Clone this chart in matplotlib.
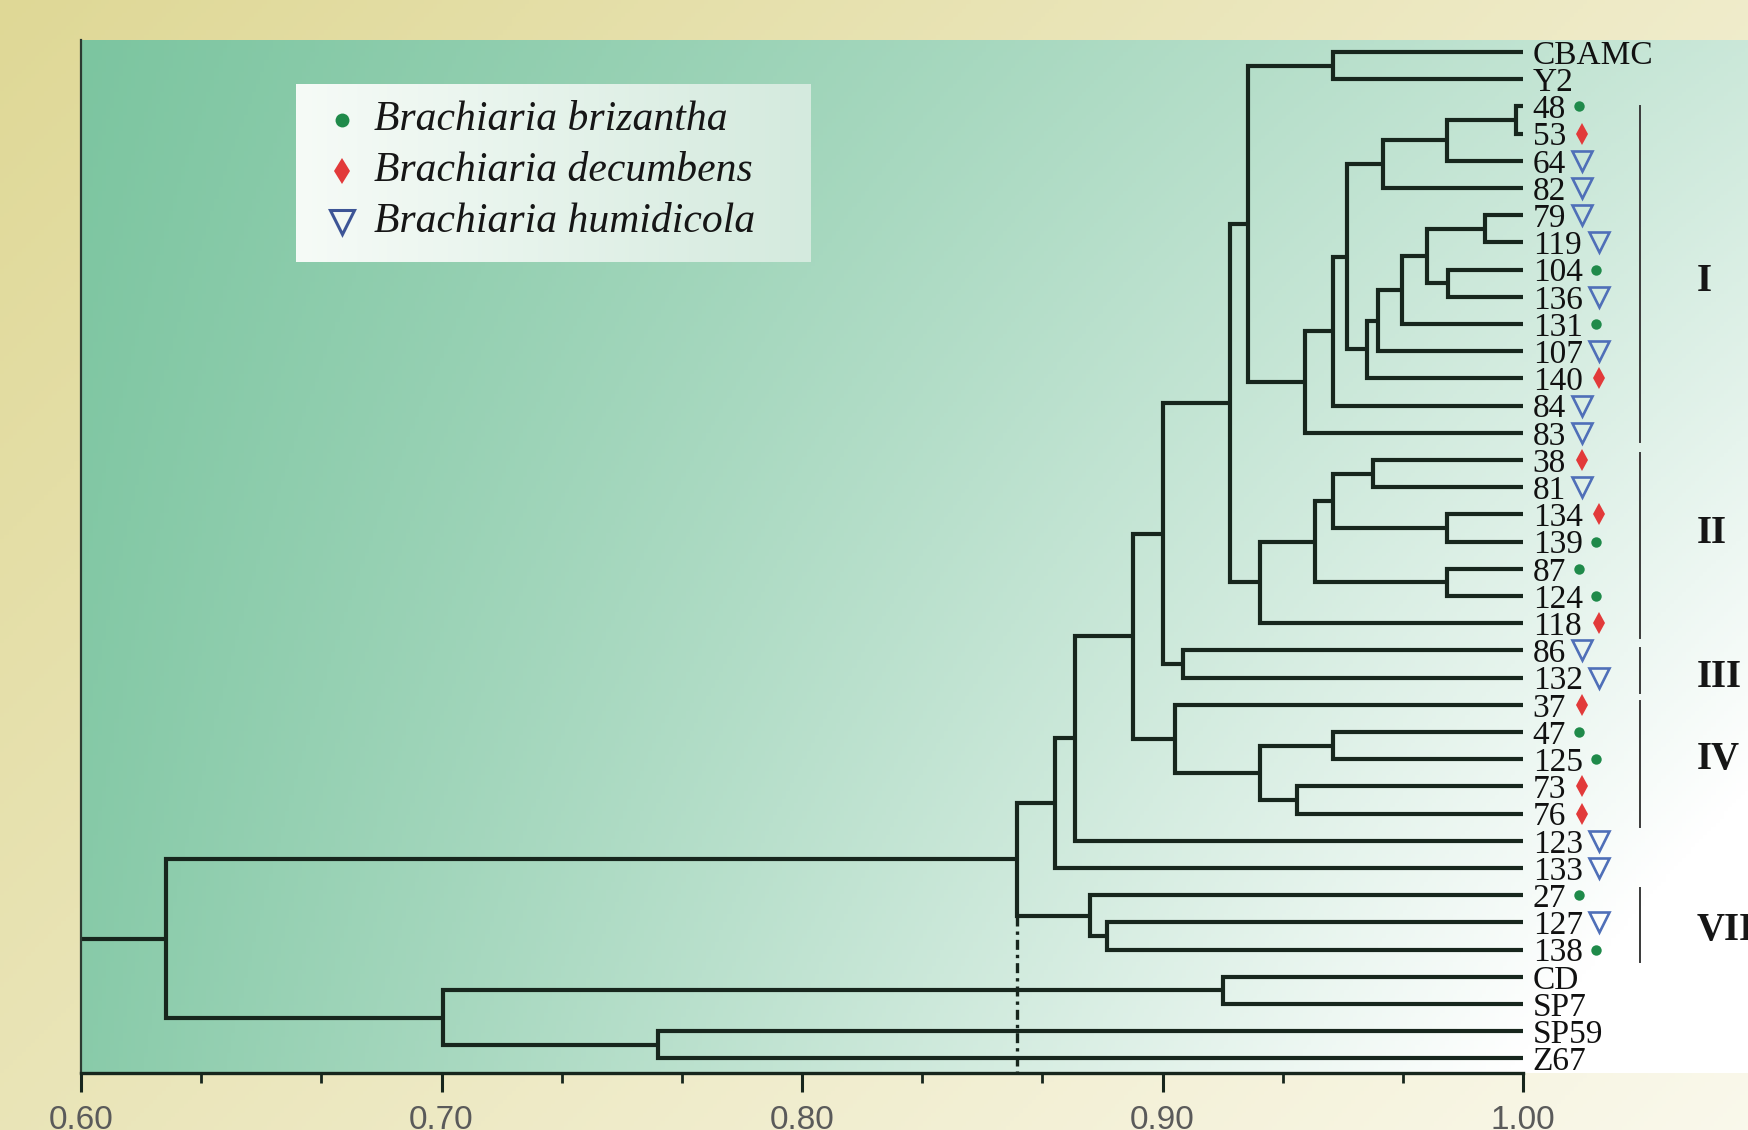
import numpy as np
import matplotlib.pyplot as plt

# leaf order, top to bottom
leaves = ["CBAMC", "Y2", "48", "53", "64", "82", "79", "119", "104", "136",
          "131", "107", "140", "84", "83", "38", "81", "134", "139", "87",
          "124", "118", "86", "132", "37", "47", "125", "73", "76", "123",
          "133", "27", "127", "138", "CD", "SP7", "SP59", "Z67"]

# b = B. brizantha, d = B. decumbens, h = B. humidicola
species = {"48": "b", "53": "d", "64": "h", "82": "h", "79": "h", "119": "h",
           "104": "b", "136": "h", "131": "b", "107": "h", "140": "d", "84": "h",
           "83": "h", "38": "d", "81": "h", "134": "d", "139": "b", "87": "b",
           "124": "b", "118": "d", "86": "h", "132": "h", "37": "d", "47": "b",
           "125": "b", "73": "d", "76": "d", "123": "h", "133": "h", "27": "b",
           "127": "h", "138": "b"}

# (node, child a, child b, similarity coefficient)
merges = [
    ("n1", "48", "53", 0.998),
    ("n2", "n1", "64", 0.9788),
    ("n3", "n2", "82", 0.9613),
    ("n4", "79", "119", 0.9894),
    ("n5", "104", "136", 0.9793),
    ("n6", "n4", "n5", 0.9733),
    ("n7", "n6", "131", 0.9663),
    ("n8", "n7", "107", 0.9599),
    ("n9", "n8", "140", 0.9566),
    ("n10", "n3", "n9", 0.9511),
    ("n11", "n10", "84", 0.9474),
    ("n12", "n11", "83", 0.9395),
    ("n13", "CBAMC", "Y2", 0.9474),
    ("n14", "n13", "n12", 0.9238),
    ("n15", "38", "81", 0.9585),
    ("n16", "134", "139", 0.9788),
    ("n17", "n15", "n16", 0.9474),
    ("n18", "87", "124", 0.9788),
    ("n19", "n17", "n18", 0.9423),
    ("n20", "n19", "118", 0.9271),
    ("n21", "n14", "n20", 0.9187),
    ("n22", "86", "132", 0.9058),
    ("n23", "n21", "n22", 0.9002),
    ("n24", "47", "125", 0.9474),
    ("n25", "73", "76", 0.9372),
    ("n26", "n24", "n25", 0.9271),
    ("n27", "37", "n26", 0.9035),
    ("n28", "n23", "n27", 0.8919),
    ("n29", "n28", "123", 0.8757),
    ("n30", "n29", "133", 0.8702),
    ("n31", "127", "138", 0.8845),
    ("n32", "27", "n31", 0.8799),
    ("n33", "n30", "n32", 0.8596),
    ("n34", "CD", "SP7", 0.9169),
    ("n35", "SP59", "Z67", 0.7600),
    ("n36", "n34", "n35", 0.7004),
    ("n37", "n33", "n36", 0.6235),
]

groups = ["I", "II", "III", "IV", "VII"]
group_spans = [(2.0, 14.35), (14.75, 21.55), (21.9, 23.55), (23.85, 28.5), (30.75, 33.45)]
group_label_y = [8.45, 17.7, 23.0, 26.0, 32.3]

major_ticks = [0.60, 0.70, 0.80, 0.90, 1.00]
tick_labels = ["0.60", "0.70", "0.80", "0.90", "1.00"]
minor_ticks = [0.6333, 0.6667, 0.7333, 0.7667, 0.8333, 0.8667, 0.9333, 0.9667]

legend_names = {"b": "Brachiaria brizantha", "d": "Brachiaria decumbens",
                "h": "Brachiaria humidicola"}

# marker styles
mstyle = {
    "b": dict(marker="o", ms=7.5, mfc="#1f8a4a", mec="#1f8a4a", mew=0),
    "d": dict(marker="d", ms=11, mfc="#e23a3a", mec="#e23a3a", mew=0),
    "h": dict(marker="v", ms=15, mfc="none", mec="#4f6fb8", mew=1.9),
}
leg_style = {
    "b": dict(marker="o", ms=10, mfc="#1f8a4a", mec="#1f8a4a", mew=0),
    "d": dict(marker="d", ms=13, mfc="#e23a3a", mec="#e23a3a", mew=0),
    "h": dict(marker="v", ms=17, mfc="none", mec="#3d5596", mew=2.2),
}
marker_gap = {"b": 0.0035, "d": 0.0045, "h": 0.0045}

lc = "#17261d"
serif = "Liberation Serif"
W, H = 1749, 1130

fig = plt.figure(figsize=(W / 100, H / 100), dpi=100)

# page background
bg = fig.add_axes([0, 0, 1, 1], zorder=-5)
gx, gy = np.meshgrid(np.linspace(0, 1, 400), np.linspace(0, 1, 260))
t = np.clip(0.55 * gx + 0.35 * gy, 0, 1)[..., None]
yellow = np.array([223, 216, 150]) / 255
cream = np.array([253, 252, 245]) / 255
bg.imshow(yellow * (1 - t) + cream * t, extent=[0, 1, 0, 1], origin="upper", aspect="auto")
bg.axis("off")

rect = [81 / W, 1 - 1073 / H, 1 - 81 / W, (1073 - 40) / H]

# green panel
pan = fig.add_axes(rect, zorder=-1)
px, py = np.meshgrid(np.linspace(0, 1, 400), np.linspace(0, 1, 260))
t = np.clip(0.6 * px + 0.45 * px * py + 0.1 * py, 0, 1)[..., None]
green = np.array([124, 197, 160]) / 255
white = np.array([255, 255, 255]) / 255
pan.imshow(green * (1 - t) + white * t, extent=[0, 1, 0, 1], origin="upper", aspect="auto")
pan.axis("off")

ax = fig.add_axes(rect)
ax.set_facecolor("none")

# dendrogram
pos = {name: (1.0, i) for i, name in enumerate(leaves)}
for node, a, b, h in merges:
    xa, ya = pos[a]
    xb, yb = pos[b]
    ax.plot([xa, h, h, xb], [ya, ya, yb, yb], color=lc, lw=3.0,
            solid_joinstyle="miter", solid_capstyle="butt")
    pos[node] = (h, (ya + yb) / 2)

root_h, root_y = pos["n37"]
ax.plot([0.60, root_h], [root_y, root_y], color=lc, lw=3.0, solid_capstyle="butt")

ymax = (1073 - 52) / 27.2
ymin = (40 - 52) / 27.2

# dash-dot cut line
cut_h = pos["n33"][0]
ax.plot([cut_h, cut_h], [pos["n32"][1], ymax], color=lc, lw=2.4,
        linestyle=(0, (3, 1.5, 1, 1.5)))

# leaf labels and species markers
label_x = 1.0027
digit_w = 0.00465
for i, name in enumerate(leaves):
    ax.text(label_x, i, name, fontsize=24, family=serif, color="#111111",
            ha="left", va="center_baseline")
    if name in species:
        sp = species[name]
        mx = label_x + len(name) * digit_w + marker_gap[sp]
        ax.plot([mx], [i], linestyle="none", clip_on=False, **mstyle[sp])

# group brackets
for g, (y0, y1), gyv in zip(groups, group_spans, group_label_y):
    ax.plot([1.0324, 1.0324], [y0, y1], color="#3a3a3a", lw=1.4)
    ax.text(1.0482, gyv, g, fontsize=28, family=serif, fontweight="bold",
            color="#161616", ha="left", va="center")

ax.set_xlim(0.60, 0.60 + (W - 81) / 3605)
ax.set_ylim(ymax, ymin)

ax.set_xticks(major_ticks)
ax.set_xticklabels(tick_labels, family="Liberation Sans")
ax.set_xticks(minor_ticks, minor=True)
ax.set_yticks([])
ax.tick_params(axis="x", which="major", length=14, width=2.2, color=lc,
               labelsize=24, pad=9, labelcolor="#5a5a5a")
ax.tick_params(axis="x", which="minor", length=7, width=2.0, color=lc)
for s in ["top", "right"]:
    ax.spines[s].set_visible(False)
ax.spines["bottom"].set_bounds(0.60, 1.00)
ax.spines["bottom"].set_linewidth(2.4)
ax.spines["bottom"].set_color(lc)
ax.spines["left"].set_linewidth(1.6)
ax.spines["left"].set_color("#2c3b32")

# legend box
leg = fig.add_axes([296 / W, 1 - 262 / H, 515 / W, 178 / H], zorder=3)
lx = np.linspace(0, 1, 300)[None, :, None]
c0 = np.array([246, 251, 247]) / 255
c1 = np.array([212, 234, 222]) / 255
leg.imshow(np.repeat(c0 * (1 - lx) + c1 * lx, 10, axis=0), extent=[0, 1, 0, 1],
           aspect="auto")
for sp, yy in zip(["b", "d", "h"], [0.798, 0.511, 0.225]):
    leg.plot([0.089], [yy], linestyle="none", **leg_style[sp])
    leg.text(0.151, yy, legend_names[sp], fontsize=30, family=serif, style="italic",
             color="#161616", ha="left", va="center")
leg.set_xlim(0, 1)
leg.set_ylim(0, 1)
leg.axis("off")

fig.savefig("out.png", dpi=100)
